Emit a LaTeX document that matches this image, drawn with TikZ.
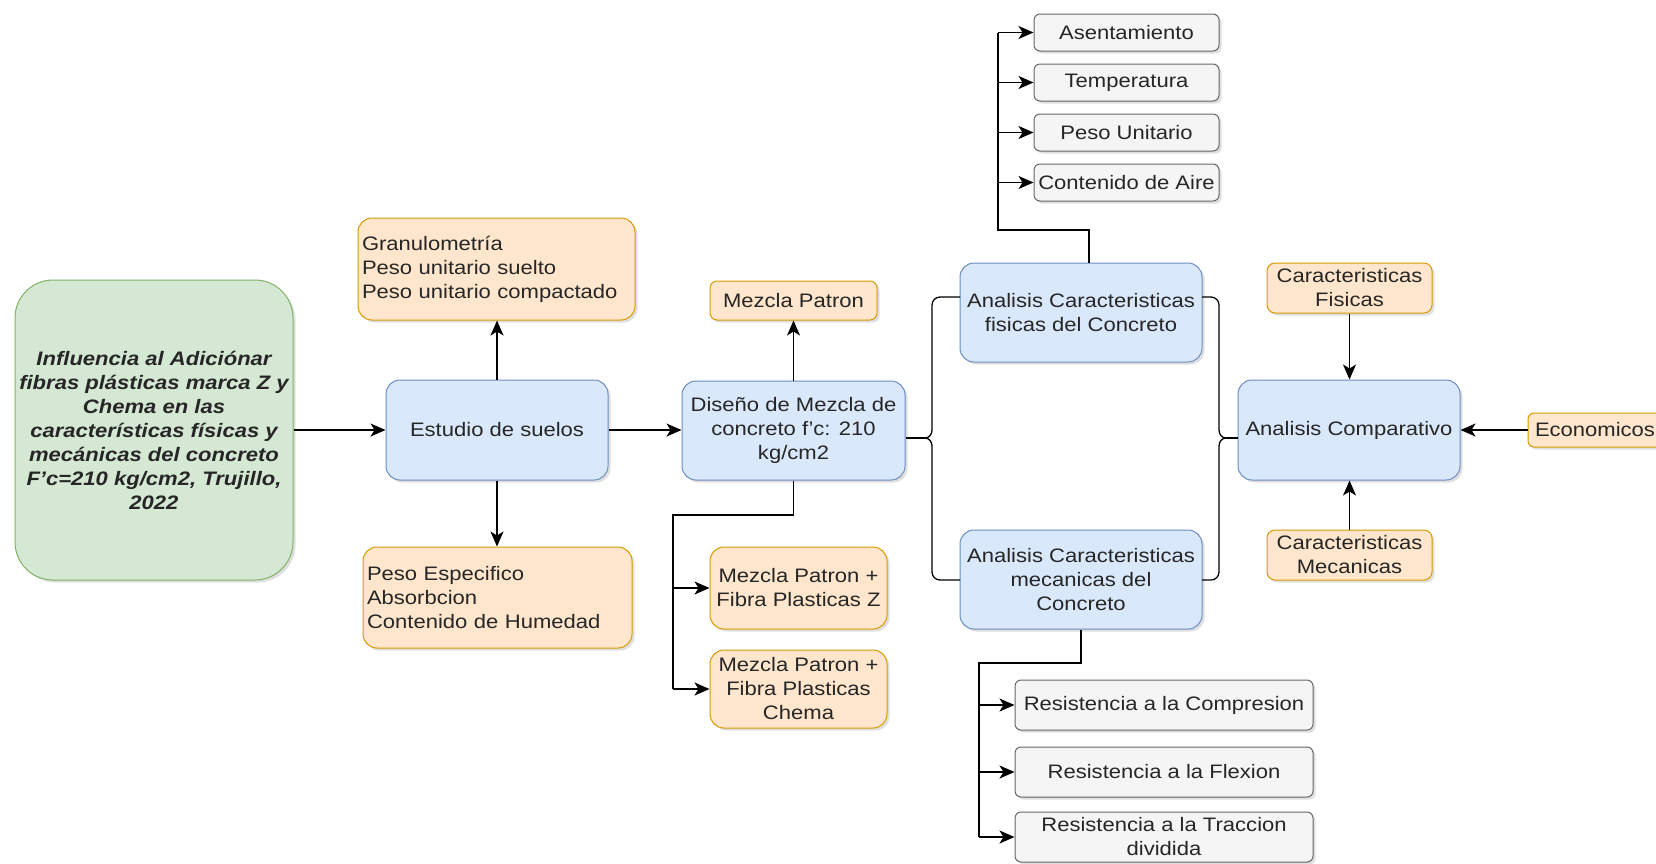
\documentclass[tikz,border=0pt]{standalone}
\usepackage{fontspec}
\setmainfont{Liberation Sans}[FakeStretch=1.13]
\usetikzlibrary{arrows.meta,shadows}
\definecolor{bfill}{HTML}{DAE8FC}
\definecolor{bdraw}{HTML}{6C8EBF}
\definecolor{ofill}{HTML}{FFE6CC}
\definecolor{odraw}{HTML}{D79B00}
\definecolor{gfill}{HTML}{D5E8D4}
\definecolor{gdraw}{HTML}{82B366}
\definecolor{hfill}{HTML}{F5F5F5}
\definecolor{hdraw}{HTML}{666666}
\definecolor{txt}{HTML}{262626}
\newcommand{\fsz}{\fontsize{19.5}{24}\selectfont}
\begin{document}
\begin{tikzpicture}[x=1pt,y=-1pt,
 box/.style={draw, line width=1pt, text=txt, font=\fsz, align=center, inner sep=2pt,
   rounded corners=14pt, drop shadow={shadow xshift=2.5pt,shadow yshift=-2.5pt,opacity=0.25}},
 bluebox/.style={box, fill=bfill, draw=bdraw},
 orangebox/.style={box, fill=ofill, draw=odraw},
 graybox/.style={box, fill=hfill, draw=hdraw, rounded corners=6pt},
 greenbox/.style={box, fill=gfill, draw=gdraw, rounded corners=38pt},
 sz/.style 2 args={minimum width=#1pt, minimum height=#2pt},
 ln/.style={draw=black, line width=1.6pt},
 arr/.style={ln, -{Stealth[length=15pt,width=13pt,inset=4pt]}},
]
\fill[white] (0,0) rectangle (1656,863);
\useasboundingbox (0,0) rectangle (1656,863);

% nodes
\node[greenbox, sz={278}{300}, font=\fsz\bfseries\itshape] (tit) at (154,430)
 {Influencia al Adiciónar\\fibras plásticas marca Z y\\Chema en las\\características físicas y\\mecánicas del concreto\\F’c=210 kg/cm2, Trujillo,\\2022};
\node[bluebox, sz={222}{100}] (est) at (497,430) {Estudio de suelos};
\node[orangebox, sz={277}{102}, align=left, text width=269pt, inner sep=4pt] (gran) at (496.5,269)
 {Granulometría\\Peso unitario suelto\\Peso unitario compactado};
\node[orangebox, sz={269}{101}, align=left, text width=261pt, inner sep=4pt] (pesp) at (497.5,597.5)
 {Peso Especifico\\Absorbcion\\Contenido de Humedad};
\node[bluebox, sz={223}{99}] (dis) at (793.5,430.5) {Diseño de Mezcla de\\concreto f’c: 210\\kg/cm2};
\node[orangebox, sz={167}{39}, rounded corners=7pt] (mp) at (793.5,300.5) {Mezcla Patron};
\node[orangebox, sz={177}{82}] (mpz) at (798.5,588) {Mezcla Patron +\\Fibra Plasticas Z};
\node[orangebox, sz={177}{78}] (mpc) at (798.5,689) {Mezcla Patron +\\Fibra Plasticas\\Chema};
\node[bluebox, sz={242}{99}] (fis) at (1081,312.5) {Analisis Caracteristicas\\fisicas del Concreto};
\node[bluebox, sz={242}{99}] (mec) at (1081,579.5) {Analisis Caracteristicas\\mecanicas del\\Concreto};
\node[graybox, sz={185}{37}] (a1) at (1126.5,32.5) {Asentamiento};
\node[graybox, sz={185}{37}] (a2) at (1126.5,82.5) {Temperatura};
\node[graybox, sz={185}{37}] (a3) at (1126.5,132.5) {Peso Unitario};
\node[graybox, sz={185}{37}] (a4) at (1126.5,182.5) {Contenido de Aire};
\node[graybox, sz={298}{50}] (r1) at (1164,705) {Resistencia a la Compresion};
\node[graybox, sz={298}{50}] (r2) at (1164,772) {Resistencia a la Flexion};
\node[graybox, sz={298}{50}] (r3) at (1164,837) {Resistencia a la Traccion\\dividida};
\node[bluebox, sz={222}{100}] (cmp) at (1349,430) {Analisis Comparativo};
\node[orangebox, sz={165}{50}, rounded corners=8pt] (cf) at (1349.5,288) {Caracteristicas\\Fisicas};
\node[orangebox, sz={165}{50}, rounded corners=8pt] (cm) at (1349.5,555) {Caracteristicas\\Mecanicas};
\node[orangebox, sz={134}{34}, rounded corners=6pt] (eco) at (1595,430) {Economicos};

% coordinates
\coordinate (j1) at (673,515);
\coordinate (j2) at (998,230);
\coordinate (j3) at (979,663);
\coordinate (lc) at (925,438);
\coordinate (rc) at (1226,438);

% connectors
\draw[arr] (tit.east) -- (tit.east -| est.west);
\draw[arr] (est.east) -- (est.east -| dis.west);
\draw[arr] (est.north) -- (est.north |- gran.south);
\draw[arr] (est.south) -- (est.south |- pesp.north);
\draw[arr] (dis.north) -- (dis.north |- mp.south);
\draw[ln] (dis.south) |- (j1) -- (j1 |- mpc.west);
\draw[arr] (j1 |- mpz.west) -- (mpz.west);
\draw[arr] (j1 |- mpc.west) -- (mpc.west);

\draw[ln] ([xshift=8pt]fis.north) |- (j2) -- (j2 |- a1.west);
\foreach \n in {a1,a2,a3,a4} \draw[arr] (j2 |- \n.west) -- (\n.west);

\draw[ln] (mec.south) |- (j3) -- (j3 |- r3.west);
\foreach \n in {r1,r2,r3} \draw[arr] (j3 |- \n.west) -- (\n.west);

\draw[arr] (cf.south) -- (cf.south |- cmp.north);
\draw[arr] (cm.north) -- (cm.north |- cmp.south);
\draw[arr] (eco.west) -- (eco.west -| cmp.east);

% braces
\draw[ln, line width=1.3pt] (960,297) -- (940,297) to[out=180,in=90] (932,305) -- (932,430)
  to[out=-90,in=0] (lc) to[out=0,in=90] (932,446) -- (932,572) to[out=-90,in=180] (940,580) -- (960,580);
\draw[ln, line width=1.3pt] ([yshift=-7.5pt]dis.east) -- (lc);
\draw[ln, line width=1.3pt] (1202,297) -- (1211,297) to[out=0,in=90] (1219,305) -- (1219,430)
  to[out=-90,in=180] (rc) to[out=180,in=90] (1219,446) -- (1219,572) to[out=-90,in=0] (1211,580) -- (1202,580);
\draw[ln, line width=1.3pt] (rc) -- ([yshift=-8pt]cmp.west);
\end{tikzpicture}
\end{document}
